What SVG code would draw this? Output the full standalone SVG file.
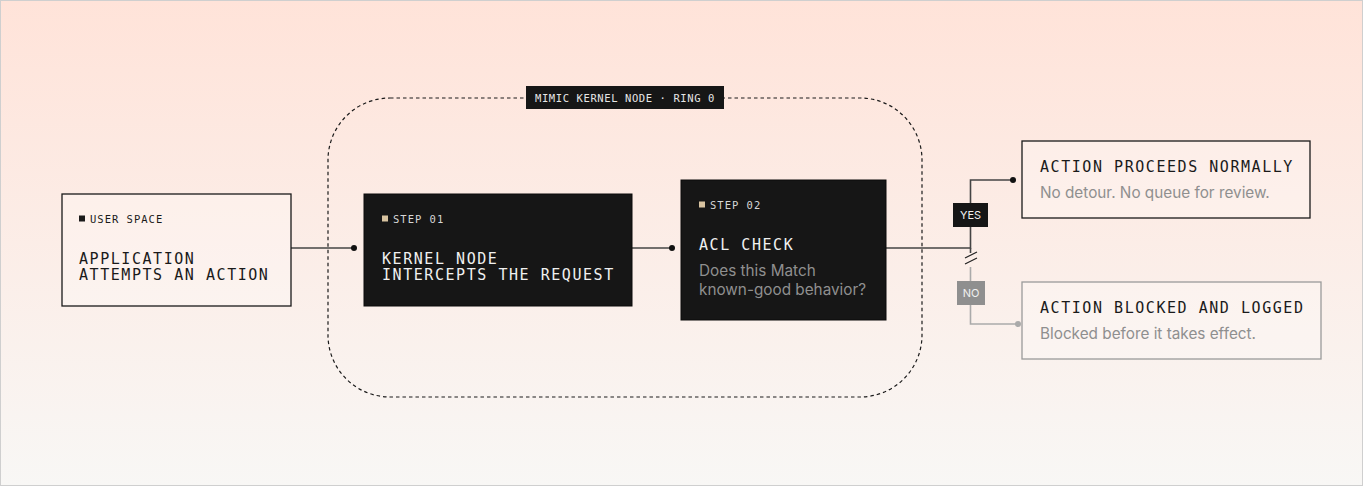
<svg xmlns="http://www.w3.org/2000/svg" width="1363" height="486" viewBox="0 0 1363 486">
<defs>
<linearGradient id="bg" x1="0" y1="0" x2="0" y2="1">
<stop offset="0" stop-color="#FFE3D9"/>
<stop offset="1" stop-color="#F8F7F5"/>
</linearGradient>
<style>
.mono{font-family:"DejaVu Sans Mono","Liberation Mono",monospace;}
.sans{font-family:Inter,"Liberation Sans",sans-serif;}
.title{font-size:15px;letter-spacing:1.55px;}
.small{font-size:10.5px;letter-spacing:1px;}
.dark{fill:#161616;stroke:#0a0a0a;stroke-width:1;}
.light{fill:#ffffff;fill-opacity:0.25;stroke:#1a1a1a;stroke-width:1.3;}
.line{fill:none;stroke:#444;stroke-width:1.6;}
.gline{fill:none;stroke:#aaa;stroke-width:1.6;}
.sub{font-size:15.3px;fill:#8f8f8f;}
</style>
</defs>
<rect x="0.5" y="0.5" width="1362" height="485" fill="url(#bg)" stroke="#cfcfcf" stroke-width="1"/>

<g id="ring">
<rect x="328" y="98" width="594" height="299" rx="62" ry="62" fill="none" stroke="#1a1a1a" stroke-width="1.2" stroke-dasharray="3.5,3"/>
<rect x="526" y="86" width="198" height="23" fill="#161616"/>
<text x="625" y="102" text-anchor="middle" class="mono small" fill="#e6e6e6" style="letter-spacing:0.6px">MIMIC KERNEL NODE · RING 0</text>
</g>

<g id="connectors">
<path class="line" d="M291 248 H354"/>
<circle cx="354" cy="248" r="3" fill="#111"/>
<path class="line" d="M632 248 H672"/>
<circle cx="672" cy="248" r="3" fill="#111"/>
<path class="line" d="M886 248 H970.5 V180 H1013"/>
<circle cx="1013" cy="180" r="3" fill="#111"/>
<path class="line" d="M970.5 248 V253"/>
<path d="M965 258 L977 252 M965 264 L977 258" stroke="#222" stroke-width="1.2"/>
<path class="gline" d="M970.5 267 V324 H1018"/>
<circle cx="1018" cy="324" r="3" fill="#aaa"/>
<rect x="953" y="203" width="35" height="24" fill="#161616"/>
<text x="970.5" y="219" text-anchor="middle" class="sans" font-size="11" fill="#f0f0f0">YES</text>
<rect x="957" y="281" width="28" height="24" fill="#8f8f8f"/>
<text x="971" y="297" text-anchor="middle" class="sans" font-size="11" fill="#f0f0f0">NO</text>
</g>

<g id="user-space">
<rect x="62" y="194" width="229" height="112" class="light"/>
<rect x="79" y="215.5" width="6" height="6" fill="#1a1a1a"/>
<text x="90" y="223" class="mono small" fill="#1a1a1a">USER SPACE</text>
<text x="79" y="264" class="mono title" fill="#1a1a1a">APPLICATION</text>
<text x="79" y="280" class="mono title" fill="#1a1a1a">ATTEMPTS AN ACTION</text>
</g>

<g id="step-01">
<rect x="364" y="194" width="268" height="112" class="dark"/>
<rect x="382" y="215.5" width="6" height="6" fill="#d8c3a0"/>
<text x="393" y="223" class="mono small" fill="#d6d6d6">STEP 01</text>
<text x="382" y="264" class="mono title" fill="#f0f0f0">KERNEL NODE</text>
<text x="382" y="280" class="mono title" fill="#f0f0f0">INTERCEPTS THE REQUEST</text>
</g>

<g id="step-02">
<rect x="681" y="180" width="205" height="140" class="dark"/>
<rect x="699" y="201.5" width="6" height="6" fill="#d8c3a0"/>
<text x="710" y="209" class="mono small" fill="#d6d6d6">STEP 02</text>
<text x="699" y="250" class="mono title" fill="#f0f0f0">ACL CHECK</text>
<text x="699" y="276" class="sans sub" fill="#8a8a8a">Does this Match</text>
<text x="699" y="295" class="sans sub" fill="#8a8a8a">known-good behavior?</text>
</g>

<g id="proceeds">
<rect x="1022" y="141" width="288" height="77" class="light"/>
<text x="1040" y="172" class="mono title" fill="#1a1a1a">ACTION PROCEEDS NORMALLY</text>
<text x="1040" y="198" class="sans sub">No detour. No queue for review.</text>
</g>

<g id="blocked">
<rect x="1022" y="282" width="299" height="77" fill="#ffffff" fill-opacity="0.25" stroke="#9a9a9a" stroke-width="1.3"/>
<text x="1040" y="313" class="mono title" fill="#1a1a1a">ACTION BLOCKED AND LOGGED</text>
<text x="1040" y="339" class="sans sub">Blocked before it takes effect.</text>
</g>
</svg>
